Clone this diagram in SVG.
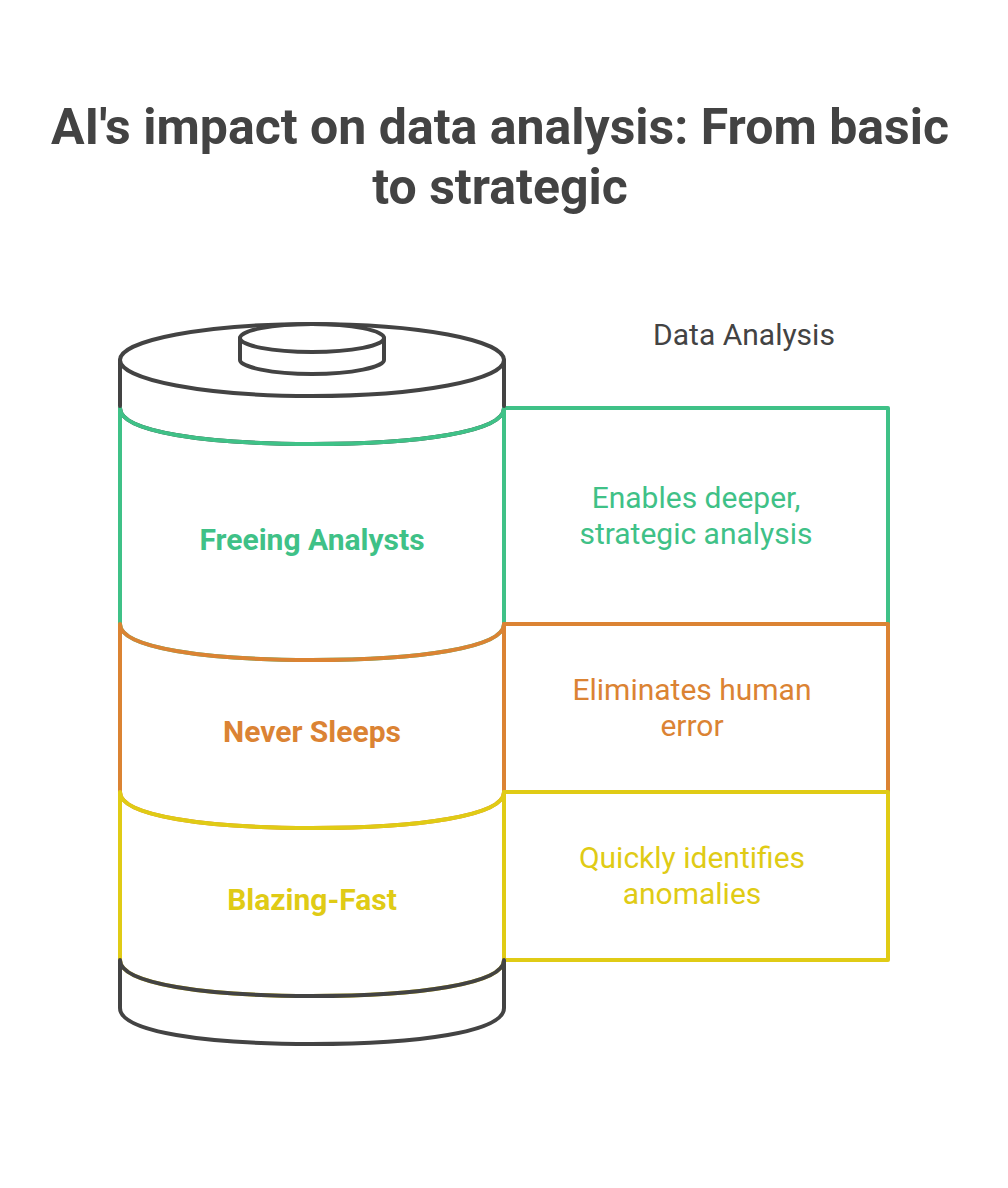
<svg xmlns="http://www.w3.org/2000/svg" width="1008" height="1188" viewBox="0 0 1008 1188">
<style>
text{font-family:Roboto,"Liberation Sans",sans-serif;text-anchor:middle}
.t{font-size:50px;font-weight:700;fill:#434343}
.b{font-size:30px;font-weight:700}
.r{font-size:30px}
.s{fill:none;stroke-width:4;stroke-linejoin:round;stroke-linecap:round}
.d{stroke:#434343}.g{stroke:#3fc187}.o{stroke:#db8333}.y{stroke:#e0cb15}
</style>
<rect width="1008" height="1188" fill="#fff"/>
<g id="title"><text class="t" x="500" y="144">AI's impact on data analysis: From basic</text><text class="t" x="500" y="204">to strategic</text></g>
<text id="heading" class="r" x="744" y="345" fill="#434343">Data Analysis</text>
<path id="battery-shoulder" class="s d" d="M120 408C120 432 206 444 312 444C418 444 504 432 504 408"/>
<g id="layer-green"><path class="s g" d="M120 408C120 432 206 444 312 444C418 444 504 432 504 408V624C504 648 418 660 312 660C206 660 120 648 120 624Z"/><rect class="s g" x="504" y="408" width="384" height="216"/><text class="b" x="312" y="550" fill="#3fc187">Freeing Analysts</text><text class="r" x="696" y="508" fill="#3fc187">Enables deeper,</text><text class="r" x="696" y="544" fill="#3fc187">strategic analysis</text></g>
<g id="layer-orange"><path class="s o" d="M120 624C120 648 206 660 312 660C418 660 504 648 504 624V792C504 816 418 828 312 828C206 828 120 816 120 792Z"/><rect class="s o" x="504" y="624" width="384" height="168"/><text class="b" x="312" y="742" fill="#db8333">Never Sleeps</text><text class="r" x="692" y="700" fill="#db8333">Eliminates human</text><text class="r" x="692" y="736" fill="#db8333">error</text></g>
<g id="layer-yellow"><path class="s y" d="M120 792C120 816 206 828 312 828C418 828 504 816 504 792V960C504 984 418 996 312 996C206 996 120 984 120 960Z"/><rect class="s y" x="504" y="792" width="384" height="168"/><text class="b" x="312" y="910" fill="#e0cb15">Blazing-Fast</text><text class="r" x="692" y="868" fill="#e0cb15">Quickly identifies</text><text class="r" x="692" y="904" fill="#e0cb15">anomalies</text></g>
<g id="battery-base"><path class="s d" d="M120 960C120 984 206 996 312 996C418 996 504 984 504 960V1008C504 1032 418 1044 312 1044C206 1044 120 1032 120 1008Z"/></g>
<g id="battery-top"><path class="s d" d="M120 360V406M504 360V406"/><ellipse class="s d" cx="312" cy="360" rx="192" ry="36"/><path class="s d" d="M240 338V360C240 367 272 374 312 374C352 374 384 367 384 360V338"/><ellipse class="s d" cx="312" cy="338" rx="72" ry="14"/></g>
</svg>
